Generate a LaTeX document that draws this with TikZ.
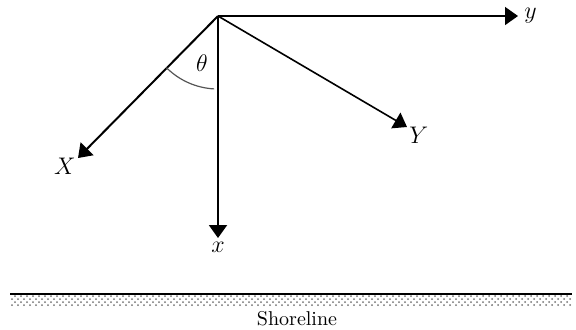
\documentclass[tikz,border=0pt]{standalone}
\usepackage{amsmath}
\usetikzlibrary{arrows.meta,positioning,patterns}
\definecolor{arcgrey}{HTML}{555555}

\begin{document}
\begin{tikzpicture}[x=0.5pt,y=-0.5pt,>={Triangle[length=6.5pt,width=9pt]},
    axis/.style={->,line width=1pt},
    thinaxis/.style={->,line width=0.8pt},
    lbl/.style={inner sep=1pt,font=\large}]
    \useasboundingbox (0,0) rectangle (576,329);
    % origin and arrow tips
    \coordinate (O) at (218,16);
    \coordinate (ytip) at (518,16);
    \coordinate (xtip) at (218,238);
    \coordinate (Xtip) at (78,158);
    \coordinate (Ytip) at (407,127);

    % axes
    \draw[thinaxis] (O) -- (ytip);
    \draw[axis] (O) -- (xtip);
    \draw[axis] (O) -- (Xtip);
    \draw[thinaxis] (O) -- (Ytip);

    % axis labels
    \node[lbl,right=2pt of ytip] (ylab) {$y$};
    \node[lbl,below=1pt of xtip] (xlab) {$x$};
    \node[lbl,below left=-1pt and 0pt of Xtip] (Xlab) {$X$};
    \node[lbl,below right=-1pt and 0pt of Ytip] (Ylab) {$Y$};

    % angle between x and X
    \draw[arcgrey,line width=0.6pt] ([shift={(-135:36.5pt)}]O)
      arc[start angle=-135,end angle=-93,radius=36.5pt];
    \node[font=\large] (theta) at (202,63) {$\theta$};

    % shoreline
    \fill[pattern=crosshatch dots,pattern color=black!55] (10,295) rectangle (572,306);
    \draw[line width=1pt] (10,294) -- (572,294);
    \node (shore) at (297,319) {Shoreline};
  \end{tikzpicture}
\end{document}
